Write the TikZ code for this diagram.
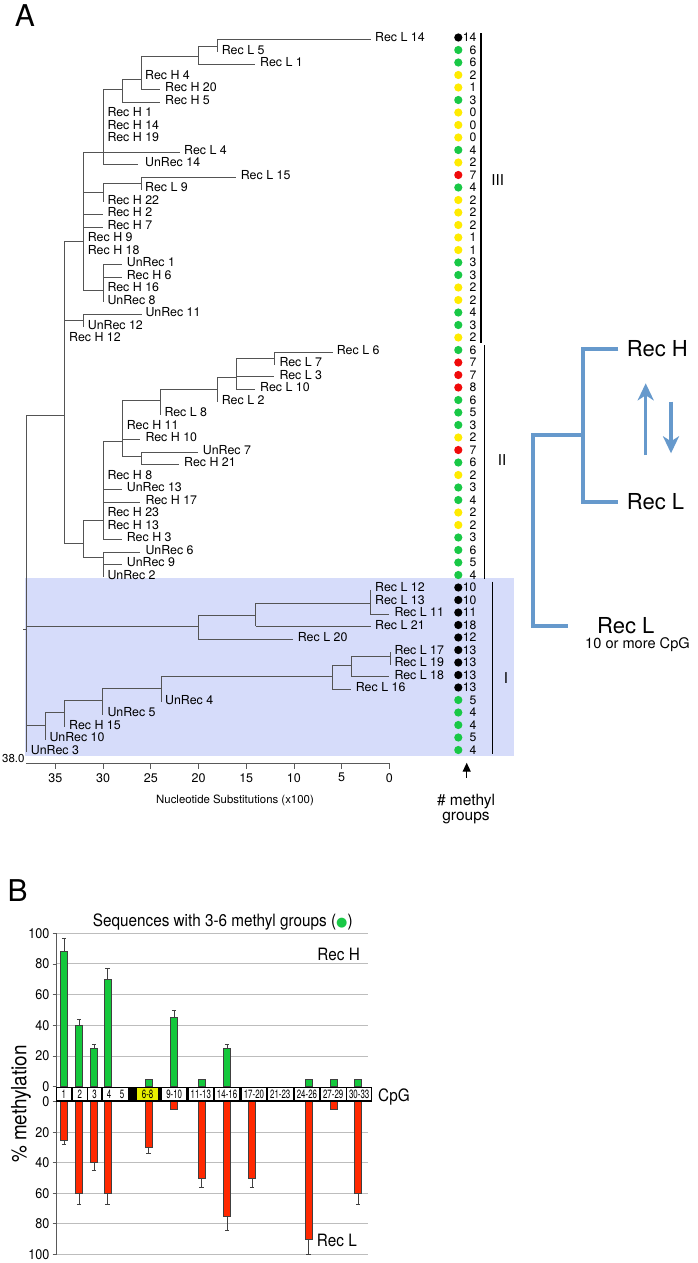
\documentclass[tikz,border=0pt]{standalone}
\usepackage{fontspec}
\setmainfont{TeX Gyre Heros}
\newfontfamily\cnd[FakeStretch=0.9]{TeX Gyre Heros}
\newfontfamily\cndd[FakeStretch=0.66]{TeX Gyre Heros}
\newfontfamily\djv{DejaVu Sans}
\usetikzlibrary{arrows.meta}
\newcommand\fsz[1]{\fontsize{#1pt}{#1pt}\selectfont}
\newcommand\hbr[3]{\draw[br] (#2,#1) -- (#3,#1);}
\newcommand\vbr[3]{\draw[br] (#1,#2) -- (#1,#3);}
\definecolor{treegray}{rgb}{0.33,0.33,0.33}
\definecolor{axgray}{rgb}{0.35,0.35,0.35}
\definecolor{gridgray}{rgb}{0.74,0.74,0.74}
\definecolor{outl}{rgb}{0.25,0.25,0.25}
\definecolor{bgblue}{RGB}{214,220,250}
\definecolor{dK}{RGB}{0,0,0}
\definecolor{dG}{RGB}{25,200,70}
\definecolor{dY}{RGB}{255,235,0}
\definecolor{dR}{RGB}{240,10,10}
\definecolor{barG}{RGB}{20,200,60}
\definecolor{barR}{RGB}{255,40,0}
\definecolor{boxY}{RGB}{232,240,0}
\definecolor{schblue}{RGB}{102,153,204}
\begin{document}
\begin{tikzpicture}[x=1pt,y=-1pt,
  br/.style={draw=treegray,line width=0.9pt},
  leaf/.style={anchor=base west,inner sep=0pt,font=\fsz{12.4}},
  num/.style={anchor=base east,inner sep=0pt,font=\fsz{12.2}},
  dotn/.style={circle,inner sep=0pt,minimum size=8.2pt},
  cbar/.style={draw=black,line width=1.4pt},
  clab/.style={font=\fsz{15},inner sep=0pt},
  axis/.style={draw=axgray,line width=0.8pt},
  gridl/.style={draw=gridgray,line width=1pt},
  gbar/.style={fill=barG,draw=outl,line width=0.6pt},
  rbar/.style={fill=barR,draw=outl,line width=0.6pt},
  err/.style={draw=outl,line width=0.6pt},
  schem/.style={draw=schblue,line width=4pt,line join=miter},
  schar/.style={draw=schblue,line width=3.3pt,-{Stealth[length=17pt,width=16pt,inset=5pt]}},
  ylab/.style={anchor=east,inner sep=0pt,font=\cnd\fsz{14}},
  boxl/.style={inner sep=0pt,font=\cndd\fsz{12}},
]
\useasboundingbox (0,0) rectangle (697,1263);
\fill[white] (0,0) rectangle (697,1263);

% panel letters
\node[font=\fsz{30},inner sep=0pt] (labA) at (25,16) {A};
\node[font=\fsz{30},inner sep=0pt] (labB) at (17.7,891) {B};

% shaded clade I
\fill[bgblue] (25,578.3) rectangle (514,756.3);

% ---------------- tree branches ----------------
% root
\vbr{26.7}{415}{752}
\hbr{415}{26.7}{64}
\hbr{626.7}{26.7}{198.3}
\hbr{725}{26.7}{45}
\hbr{629}{23}{26.7}
% III + II node
\vbr{64}{241.7}{543.3}
\hbr{241.7}{64}{83}
\hbr{320.7}{64}{83}
\hbr{543.3}{64}{83}
% clade III main
\vbr{83}{152}{290.7}
\hbr{152}{83}{180}
\hbr{192.3}{83}{103}
\hbr{214.5}{83}{103}
\hbr{227}{83}{103}
\hbr{290.7}{83}{103}
\vbr{103}{89.5}{164.5}
\hbr{89.5}{103}{122.3}
\hbr{164.5}{103}{138.3}
\vbr{122.3}{79}{102}
\hbr{79}{122.3}{141.7}
\hbr{102}{122.3}{160}
\vbr{141.7}{56}{89.5}
\hbr{56}{141.7}{198.3}
\hbr{89.5}{141.7}{160}
\vbr{198.3}{46.7}{64.5}
\hbr{46.7}{198.3}{217.3}
\hbr{64.5}{198.3}{255}
\vbr{217.3}{39.5}{52}
\hbr{39.5}{217.3}{370.7}
\vbr{103}{183.3}{202}
\hbr{183.3}{103}{141.7}
\vbr{141.7}{177}{189.5}
\hbr{177}{141.7}{236}
\vbr{103}{264.5}{302}
\hbr{264.5}{103}{121.7}
\hbr{277}{103}{121.7}
\vbr{83}{314.5}{327}
\hbr{314.5}{83}{141.7}
% clade II
\vbr{83}{520.7}{557.7}
\hbr{520.7}{83}{103}
\hbr{557.7}{83}{103}
\vbr{103}{441.7}{539.5}
\hbr{441.7}{103}{122.3}
\hbr{489.5}{103}{121.7}
\hbr{502}{103}{140}
\hbr{539.5}{103}{121.7}
\vbr{122.3}{400.7}{456.7}
\hbr{400.7}{122.3}{160}
\hbr{439}{122.3}{140}
\hbr{456.7}{122.3}{141.7}
\vbr{141.7}{452}{464.5}
\hbr{452}{141.7}{198.3}
\hbr{464.5}{141.7}{179.3}
\vbr{160}{389.3}{414.5}
\hbr{389.3}{160}{217.3}
\vbr{217.3}{377.7}{402}
\hbr{377.7}{217.3}{236}
\vbr{236}{358.3}{389.5}
\hbr{358.3}{236}{274.3}
\hbr{376}{236}{274.3}
\hbr{389.5}{236}{255}
\vbr{274.3}{352}{364.5}
\hbr{352}{274.3}{332.7}
\vbr{103}{552}{577}
\hbr{552}{103}{140}
\hbr{564.5}{103}{121.7}
% clade I
\vbr{198.3}{615}{639.5}
\hbr{615}{198.3}{255.7}
\hbr{639.5}{198.3}{293.3}
\vbr{255.7}{603.3}{626}
\hbr{603.3}{255.7}{370.7}
\hbr{626}{255.7}{370.7}
\vbr{370.7}{589.5}{614.5}
\hbr{614.5}{370.7}{389.3}
\vbr{45}{712.7}{739.5}
\hbr{712.7}{45}{64.3}
\vbr{64.3}{700.7}{727}
\hbr{700.7}{64.3}{102.7}
\vbr{102.7}{688.3}{714.5}
\hbr{688.3}{102.7}{161}
\vbr{161}{676.7}{702}
\hbr{676.7}{161}{332.7}
\vbr{332.7}{665}{689.5}
\hbr{665}{332.7}{351}
\hbr{689.5}{332.7}{351}
\vbr{351}{656}{676}
\hbr{656}{351}{390}
\hbr{676}{351}{389.3}
\vbr{390}{652}{664.5}

% ---------------- leaf labels ----------------
\foreach \r/\x/\t in {1/375/Rec L 14, 2/221.7/Rec L 5, 3/260/Rec L 1, 4/145/Rec H 4,
 5/165/Rec H 20, 6/165/Rec H 5, 7/107.3/Rec H 1, 8/107.3/Rec H 14, 9/107.3/Rec H 19,
 10/184/Rec L 4, 11/145/UnRec 14, 12/240.7/Rec L 15, 13/145/Rec L 9, 14/107.3/Rec H 22,
 15/107.3/Rec H 2, 16/107.3/Rec H 7, 17/87.7/Rec H 9, 18/87.7/Rec H 18, 19/126.7/UnRec 1,
 20/126.7/Rec H 6, 21/107.3/Rec H 16, 22/107.3/UnRec 8, 23/145.3/UnRec 11, 24/87.7/UnRec 12,
 25/69/Rec H 12, 26/336.7/Rec L 6, 27/279.3/Rec L 7, 28/279.3/Rec L 3, 29/260/Rec L 10,
 30/221.7/Rec L 2, 31/164.3/Rec L 8, 32/126.7/Rec H 11, 33/145.3/Rec H 10, 34/202.7/UnRec 7,
 35/184/Rec H 21, 36/107.3/Rec H 8, 37/126.7/UnRec 13, 38/145.3/Rec H 17, 39/107.3/Rec H 23,
 40/107.3/Rec H 13, 41/126.7/Rec H 3, 42/145.3/UnRec 6, 43/126.7/UnRec 9, 44/107.3/UnRec 2,
 45/375/Rec L 12, 46/375/Rec L 13, 47/394.3/Rec L 11, 48/375/Rec L 21, 49/297.7/Rec L 20,
 50/394.3/Rec L 17, 51/394.3/Rec L 19, 52/394.3/Rec L 18, 53/355.7/Rec L 16, 54/165/UnRec 4,
 55/107.3/UnRec 5, 56/69/Rec H 15, 57/49.3/UnRec 10, 58/30.7/UnRec 3}
 {\node[leaf] (leaf\r) at (\x,{41.9+12.5*(\r-1)}) {\t};}

% ---------------- methyl dots ----------------
\foreach \r/\c/\n in {1/dK/14, 2/dG/6, 3/dG/6, 4/dY/2, 5/dY/1, 6/dG/3, 7/dY/0, 8/dY/0, 9/dY/0,
 10/dG/4, 11/dY/2, 12/dR/7, 13/dG/4, 14/dY/2, 15/dY/2, 16/dY/2, 17/dY/1, 18/dY/1, 19/dG/3,
 20/dG/3, 21/dY/2, 22/dY/2, 23/dG/4, 24/dG/3, 25/dY/2, 26/dG/6, 27/dR/7, 28/dR/7, 29/dR/8,
 30/dG/6, 31/dG/5, 32/dG/3, 33/dY/2, 34/dR/7, 35/dG/6, 36/dY/2, 37/dG/3, 38/dG/4, 39/dY/2,
 40/dY/2, 41/dG/3, 42/dG/6, 43/dG/5, 44/dG/4, 45/dK/10, 46/dK/10, 47/dK/11, 48/dK/18,
 49/dK/12, 50/dK/13, 51/dK/13, 52/dK/13, 53/dK/13, 54/dG/5, 55/dG/4, 56/dG/4, 57/dG/5, 58/dG/4}
 {\node[dotn,fill=\c] (dot\r) at (458.3,{37.5+12.5*(\r-1)}) {};
  \node[num] (num\r) at (476.7,{41.9+12.5*(\r-1)}) {\n};}

% clade bars
\draw[cbar] (481,33.3) -- (481,343.3);
\draw[cbar] (484.3,345) -- (484.3,579.3);
\draw[cbar] (492.3,581.7) -- (492.3,754);
\node[clab] (cIII) at (497.7,180) {III};
\node[clab] (cII) at (502,460) {II};
\node[clab] (cI) at (506,677.7) {I};

% x axis
\draw[axis] (26,763) -- (389.3,763);
\foreach \v in {0,5,...,35}
 {\draw[axis] ({389.3-9.54*\v},763) -- ({389.3-9.54*\v},768.5);
  \node[inner sep=0pt,font=\fsz{12.5}] (tk\v) at ({389.3-9.54*\v},777.7) {\v};}
\node[anchor=east,inner sep=0pt,font=\fsz{11.5}] (ax38) at (24.7,758.3) {38.0};
\node[inner sep=0pt,font=\fsz{11.4}] (axt) at (235,800) {Nucleotide Substitutions (x100)};

% methyl arrow
\coordinate (arB) at (466.7,777.7);
\coordinate (arT) at (466.7,762.7);
\draw[line width=1.3pt,-{Triangle[length=9pt,width=8pt]}] (arB) -- (arT);
\node[anchor=base,inner sep=0pt,font=\fsz{15.5}] (mt1) at (466,805) {\# methyl};
\node[anchor=base,inner sep=0pt,font=\fsz{15.5}] (mt2) at (466,820) {groups};

% ---------------- schematic ----------------
\node[anchor=west,inner xsep=8.4pt,inner ysep=0pt,font=\fsz{22}] (sRecH) at (618.3,349) {Rec H};
\node[anchor=west,inner xsep=8.4pt,inner ysep=0pt,font=\fsz{22}] (sRecL) at (618.3,501.7) {Rec L};
\node[anchor=west,inner xsep=29pt,inner ysep=0pt,font=\fsz{22}] (sRecL2) at (568,626) {Rec L};
\node[anchor=west,inner sep=0pt,font=\fsz{14.6}] (sCpG) at (585,645) {10 or more CpG};
\coordinate (sJ) at (583.3,435);
\draw[schem] (sRecH.west) -- (583.3,349) -- (583.3,501.7) -- (sRecL.west);
\draw[schem] (sJ) -- (533.3,435) -- (533.3,626) -- (sRecL2.west);
\coordinate (upB) at (645.7,455);
\coordinate (upT) at (645.7,383.3);
\coordinate (dnB) at (671,401.7);
\coordinate (dnT) at (671,453.3);
\draw[schar] (upB) -- (upT);
\draw[schar] (dnB) -- (dnT);

% ---------------- panel B ----------------
\node[anchor=base,inner sep=0pt,font=\cnd\fsz{17}] (btitle) at (222.7,926)
  {Sequences with 3-6 methyl groups ({\djv\fsz{13}\textcolor{dG}{●}})};
% grid
\foreach \v in {20,40,60,80,100}
 {\draw[gridl] (56.7,{1086.7-1.535*\v}) -- (367.7,{1086.7-1.535*\v});
  \draw[gridl] (56.7,{1101.7+1.526*\v}) -- (367.7,{1101.7+1.526*\v});}
\foreach \v in {0,20,40,60,80,100}
 {\draw[axis] (52.5,{1086.7-1.535*\v}) -- (56.7,{1086.7-1.535*\v});
  \draw[axis] (52.5,{1101.7+1.526*\v}) -- (56.7,{1101.7+1.526*\v});
  \node[ylab] (yu\v) at (49.5,{1086.7-1.535*\v}) {\v};
  \node[ylab] (yl\v) at (49.5,{1101.7+1.526*\v}) {\v};}
\draw[axis] (56.7,933.2) -- (56.7,1086.7);
\draw[axis] (56.7,1101.7) -- (56.7,1254.3);
\node[rotate=90,inner sep=0pt,font=\cnd\fsz{21}] (ylabel) at (21,1104) {\% methylation};
% green bars
\foreach \c/\v/\e in {64/88/97, 79/40/44, 94/25/27.5, 107.5/70/77, 148.5/5/5, 174/45/49.5,
 201.5/5/5, 227/25/27.5, 308.5/5/5, 333.5/5/5, 358/5/5}
 {\draw[err] (\c,{1086.7-1.535*\v}) -- (\c,{1086.7-1.535*\e});
  \draw[err] ({\c-2.2},{1086.7-1.535*\e}) -- ({\c+2.2},{1086.7-1.535*\e});
  \draw[gbar] ({\c-3.7},1086.7) rectangle ({\c+3.7},{1086.7-1.535*\v});}
% red bars
\foreach \c/\v/\e in {64/25/28, 79/60/67, 94/40/45, 107.5/60/67, 148.5/30/34, 174/5/5,
 201.5/50/56, 227/75/84, 252/50/56, 308.5/90/100, 333.5/5/5, 358/60/67}
 {\draw[err] (\c,{1101.7+1.526*\v}) -- (\c,{1101.7+1.526*\e});
  \draw[err] ({\c-2.2},{1101.7+1.526*\e}) -- ({\c+2.2},{1101.7+1.526*\e});
  \draw[rbar] ({\c-3.7},1101.7) rectangle ({\c+3.7},{1101.7+1.526*\v});}
% CpG strip
\fill[black] (55.5,1086.7) rectangle (372.3,1101.7);
\foreach \a/\b/\t/\f in {56.7/71.2/1/white, 72.9/86.7/2/white, 88/101.2/3/white,
 102.5/115.5/4/white, 116.2/128/5/white, 137.2/158/6-8/boxY, 162.2/186.2/9-10/white,
 188.7/213/11-13/white, 215/239.2/14-16/white, 241.7/266.2/17-20/white,
 268/292.5/21-23/white, 294.7/319.2/24-26/white, 320.9/345.5/27-29/white,
 347.2/371.2/30-33/white}
 {\fill[\f] (\a,1088) rectangle (\b,1100.4);
  \node[boxl] (bx\t) at ({(\a+\b)/2},1094.2) {\t};}
\node[anchor=base west,inner sep=0pt,font=\cnd\fsz{17}] (cpg) at (378,1101.1) {CpG};
\node[anchor=base east,inner sep=0pt,font=\cnd\fsz{17}] (bRecH) at (360,960) {Rec H};
\node[anchor=base east,inner sep=0pt,font=\cnd\fsz{17}] (bRecL) at (357,1246) {Rec L};
\end{tikzpicture}
\end{document}
